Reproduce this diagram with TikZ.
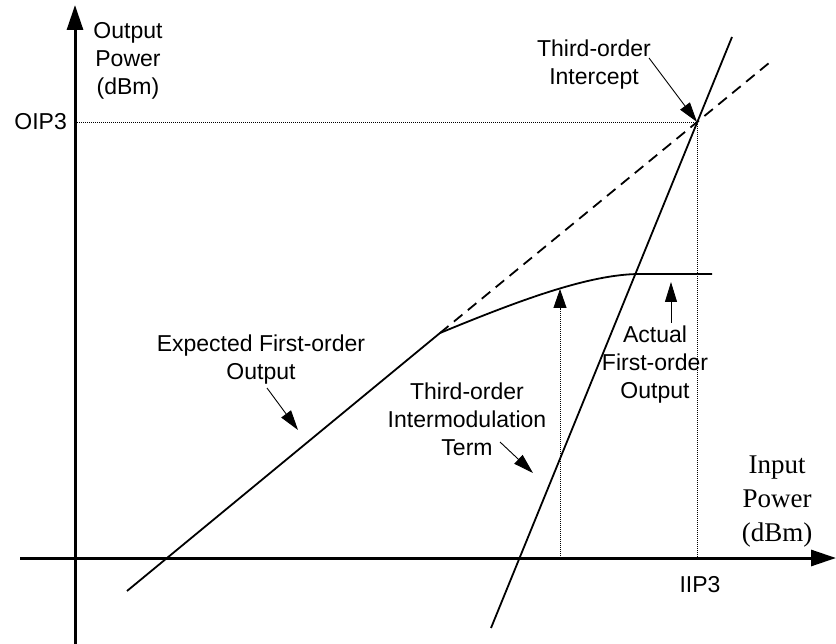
\documentclass[tikz,border=0pt]{standalone}
\usepackage{fontspec}
\newfontfamily\sansA{Liberation Sans}
\newfontfamily\serifA{Liberation Serif}
\usetikzlibrary{arrows.meta}
\begin{document}
\begin{tikzpicture}[x=1pt,y=-1pt,
  axis/.style={line width=3pt, -{Triangle[length=25pt,width=16pt]}},
  curveline/.style={line width=1.8pt, line join=round},
  dashline/.style={line width=1.8pt, dash pattern=on 11pt off 7pt},
  guide/.style={line width=0.8pt, dash pattern=on 1pt off 1pt},
  pointer/.style={line width=0.9pt, -{Triangle[length=20pt,width=12pt]}},
  lab/.style={font=\sansA\fontsize{23}{28}\selectfont, align=center, inner sep=0pt},
  slab/.style={font=\serifA\fontsize{27}{34}\selectfont, align=center, inner sep=0pt}]
\useasboundingbox (0,0) rectangle (836,644);

% key points
\coordinate (yb) at (75,644);
\coordinate (yt) at (75,5);
\coordinate (xl) at (20,558);
\coordinate (xr) at (836,558);
\coordinate (ip) at (697,122);
\coordinate (oy) at (75,122);
\coordinate (ix) at (697,558);
\coordinate (e0) at (127,591);
\coordinate (knee) at (440,333);
\coordinate (e1) at (769,63);
\coordinate (t0) at (491,628);
\coordinate (t1) at (732,37);
\coordinate (sat) at (712,274);
\coordinate (m0) at (560,558);
\coordinate (m1) at (560,289);
\coordinate (iA) at (649,58);
\coordinate (eA) at (267,388);
\coordinate (eB) at (298,430);
\coordinate (tA) at (500,442);
\coordinate (tB) at (533,473);
\coordinate (aA) at (671,323);
\coordinate (aB) at (671,282);

% guide lines
\draw[guide] (oy) -- (ip) -- (ix);
\draw[guide, -{Triangle[length=19pt,width=13pt]}] (m0) -- (m1);

% axes
\draw[axis] (yb) -- (yt);
\draw[axis] (xl) -- (xr);

% characteristics
\draw[curveline] (e0) -- (knee) .. controls (520,300) and (590,274) .. (640,274) -- (sat);
\draw[dashline] (knee) -- (e1);
\draw[curveline] (t0) -- (t1);

% pointers
\draw[pointer] (iA) -- (ip);
\draw[pointer] (eA) -- (eB);
\draw[pointer] (tA) -- (tB);
\draw[pointer] (aA) -- (aB);

% labels
\node[lab] (ylab) at (128,61) {Output\\Power\\(dBm)};
\node[lab, anchor=east] (oip) at (67,122) {OIP3};
\node[lab] (iip) at (700,585) {IIP3};
\node[lab] (icpt) at (594,65) {Third-order\\Intercept};
\node[lab] (exp) at (261,360) {Expected First-order\\Output};
\node[lab] (term) at (467,419) {Third-order\\Intermodulation\\Term};
\node[lab] (act) at (655,365) {Actual\\First-order\\Output};
\node[slab] (xlab) at (777,502) {Input\\Power\\(dBm)};
\end{tikzpicture}
\end{document}
